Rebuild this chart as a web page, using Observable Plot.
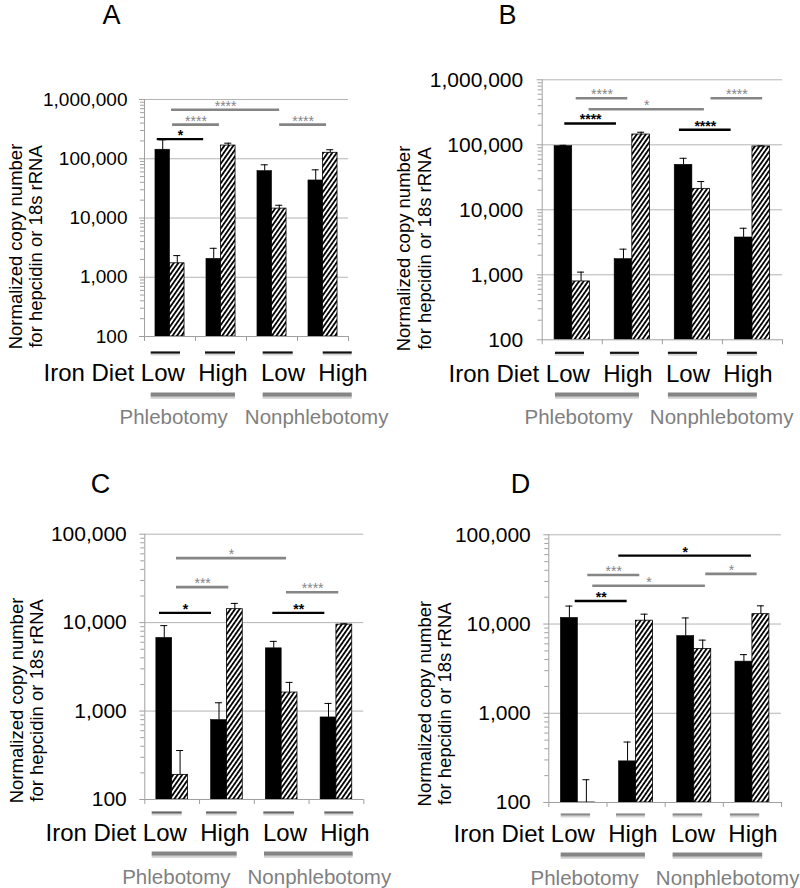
<!DOCTYPE html>
<html>
<head>
<meta charset="utf-8">
<script src="https://cdn.jsdelivr.net/npm/d3@7"></script>
<script src="https://cdn.jsdelivr.net/npm/@observablehq/plot@0.6"></script>
<style>
  body { margin: 0; background: #fff; }
  #wrap { position: relative; width: 800px; height: 888px; overflow: hidden; background: #fff;
          font-family: "Liberation Sans", Arial, Helvetica, sans-serif; }
  .panel { position: absolute; }
</style>
</head>
<body>
<svg width="0" height="0" style="position:absolute">
  <defs>
    <pattern id="hatch" patternUnits="userSpaceOnUse" width="3.7" height="3.7" patternTransform="rotate(35)">
      <rect width="3.7" height="3.7" fill="white"></rect>
      <rect width="1.8" height="3.7" fill="black"></rect>
    </pattern>
  </defs>
</svg>
<div id="wrap"></div>
<script>
// ---------- categories ----------
const ironDiet = ["Low", "High", "Low", "High"];
const treatment = ["Phlebotomy", "Phlebotomy", "Nonphlebotomy", "Nonphlebotomy"];
const yTitle = ["Normalized copy number", "for hepcidin or 18s rRNA"];
const yTicksAB = [100, 1000, 10000, 100000, 1000000];
const yTicksCD = [100, 1000, 10000, 100000];

// ---------- panel A ----------
const solidA = [142000, 2040, 61800, 43000];
const solidErrA = [67000, 1040, 17200, 22000];
const hatchedA = [1720, 167000, 14400, 126000];
const hatchedErrA = [600, 16000, 2000, 16000];
const sigA = [
  {from: 0.53, to: 2.65, y: 673000, label: "****", kind: "gray"},
  {from: 0.55, to: 1.47, y: 376000, label: "****", kind: "gray"},
  {from: 2.65, to: 3.57, y: 376000, label: "****", kind: "gray"},
  {from: 0.25, to: 1.16, y: 214000, label: "*", kind: "black"}
];

// ---------- panel B ----------
const solidB = [95200, 1740, 49200, 3750];
const solidErrB = [3000, 740, 12800, 1450];
const hatchedB = [790, 144000, 21000, 94200];
const hatchedErrB = [310, 12000, 6200, 2000];
const sigB = [
  {from: 0.566, to: 1.424, y: 521000, label: "****", kind: "gray"},
  {from: 2.81, to: 3.67, y: 521000, label: "****", kind: "gray"},
  {from: 0.78, to: 2.70, y: 353000, label: "*", kind: "gray"},
  {from: 0.376, to: 1.236, y: 213000, label: "****", kind: "black"},
  {from: 2.285, to: 3.145, y: 170000, label: "****", kind: "black"}
];

// ---------- panel C ----------
const solidC = [6710, 791, 5120, 847];
const solidErrC = [2540, 450, 1020, 373];
const hatchedC = [190, 14200, 1620, 9500];
const hatchedErrC = [168, 2300, 490, 200];
const sigC = [
  {from: 0.579, to: 2.588, y: 53700, label: "*", kind: "gray"},
  {from: 0.579, to: 1.534, y: 25200, label: "***", kind: "gray"},
  {from: 2.588, to: 3.543, y: 22100, label: "****", kind: "gray"},
  {from: 0.268, to: 1.218, y: 12900, label: "*", kind: "black"},
  {from: 2.338, to: 3.288, y: 12900, label: "**", kind: "black"}
];

// ---------- panel D ----------
const solidD = [11700, 289, 7330, 3790];
const solidErrD = [4200, 187, 4370, 750];
const hatchedD = [50, 10900, 5240, 12900];
const hatchedErrD = [130, 2000, 1360, 3100];
const sigD = [
  {from: 1.203, to: 3.483, y: 58500, label: "*", kind: "black"},
  {from: 0.67, to: 1.564, y: 35500, label: "***", kind: "gray"},
  {from: 2.698, to: 3.581, y: 36500, label: "*", kind: "gray"},
  {from: 0.756, to: 2.692, y: 26900, label: "*", kind: "gray"},
  {from: 0.454, to: 1.347, y: 18100, label: "**", kind: "black"}
];

// ---------- layout (positions / styles) ----------
const panels = [
  {letter: "A", solid: solidA, solidErr: solidErrA, hatched: hatchedA, hatchedErr: hatchedErrA, sig: sigA, ticks: yTicksAB,
   left: 0, top: 0, width: 400, height: 440, mL: 144, mR: 52, mT: 99, mB: 104, bw: 0.285,
   tickFont: 19, tickPad: 12, titleDx: -119, titleDy: 28.5, letterDx: -33, letterDy: -76,
   labelDx: -101, labelDy: 44, treatDx: -25, treatDy: 87, shortDy: 16, longDy: 58, shortColor: "#111",
   short: [[0.131, 0.706], [1.196, 1.784], [2.327, 2.916], [3.504, 4.073]],
   long: [[0.131, 1.784], [2.327, 4.073]]},
  {letter: "B", solid: solidB, solidErr: solidErrB, hatched: hatchedB, hatchedErr: hatchedErrB, sig: sigB, ticks: yTicksAB,
   left: 400, top: 0, width: 400, height: 440, mL: 141.7, mR: 18, mT: 79.3, mB: 100.7, bw: 0.294,
   tickFont: 21, tickPad: 14, titleDx: -128.2, titleDy: 38.7, letterDx: -34.7, letterDy: -56.3,
   labelDx: -93.7, labelDy: 42.4, treatDx: -17.7, treatDy: 83.7, shortDy: 13, longDy: 54.7, shortColor: "#111",
   short: [[0.221, 0.704], [1.136, 1.619], [2.101, 2.584], [3.083, 3.582]],
   long: [[0.221, 1.619], [2.101, 3.582]]},
  {letter: "C", solid: solidC, solidErr: solidErrC, hatched: hatchedC, hatchedErr: hatchedErrC, sig: sigC, ticks: yTicksCD,
   left: 0, top: 440, width: 400, height: 448, mL: 144.3, mR: 36.7, mT: 93.7, mB: 89, bw: 0.289,
   tickFont: 21, tickPad: 13, titleDx: -118.3, titleDy: 33.6, letterDx: -44.3, letterDy: -41.7,
   labelDx: -99.3, labelDy: 41, treatDx: -22.6, treatDy: 84, shortDy: 13, longDy: 54, shortColor: "#666",
   short: [[0.135, 0.683], [1.127, 1.687], [2.174, 2.734], [3.288, 3.817]],
   long: [[0.135, 1.687], [2.186, 3.806]]},
  {letter: "D", solid: solidD, solidErr: solidErrD, hatched: hatchedD, hatchedErr: hatchedErrD, sig: sigD, ticks: yTicksCD,
   left: 400, top: 440, width: 400, height: 448, mL: 148.3, mR: 19, mT: 94.3, mB: 86, bw: 0.292,
   tickFont: 21, tickPad: 13, titleDx: -114.3, titleDy: 35, letterDx: -28.3, letterDy: -42.3,
   labelDx: -95.3, labelDy: 39.7, treatDx: -18.3, treatDy: 82.7, shortDy: 12, longDy: 52, shortColor: "#8a8a8a",
   short: [[0.213, 0.718], [1.163, 1.661], [2.137, 2.646], [3.122, 3.625]],
   long: [[0.213, 1.661], [2.137, 3.677]]}
];

const FONT = "'Liberation Sans', Arial, Helvetica, sans-serif";
const GRAY = "#858585";
const AXIS = "#a0a0a0";
const NB = "\u00a0";

function makePanel(p) {
  const frameW = p.width - p.mL - p.mR;
  const unitPx = frameW / ironDiet.length;
  const cap = 3.5 / unitPx;
  const base = p.ticks[0];
  const top = p.ticks[p.ticks.length - 1];
  const rows = [];
  ironDiet.forEach((g, i) => {
    rows.push({series: "solid", x1: i + 0.5 - p.bw, x2: i + 0.5, v: p.solid[i], e: p.solidErr[i]});
    rows.push({series: "hatched", x1: i + 0.5, x2: i + 0.5 + p.bw, v: p.hatched[i], e: p.hatchedErr[i]});
  });
  const xc = d => (d.x1 + d.x2) / 2;
  const minor = [];
  p.ticks.slice(0, -1).forEach(d => { for (let k = 2; k <= 9; k++) minor.push(d * k); });
  const shortL = p.short.map(([a, b]) => ({a, b}));
  const longL = p.long.map(([a, b]) => ({a, b}));
  const labelText = "Iron Diet " + ironDiet.join(NB + NB);
  const treatText = Array.from(new Set(treatment)).join(NB + NB + NB);

  const plot = Plot.plot({
    width: p.width, height: p.height,
    marginLeft: p.mL, marginRight: p.mR, marginTop: p.mT, marginBottom: p.mB,
    x: {domain: [0, ironDiet.length]},
    y: {type: "log", domain: [base, top]},
    style: {fontFamily: FONT, background: "transparent", color: "black", overflow: "visible"},
    marks: [
      // gridlines & axes
      Plot.ruleY(p.ticks.slice(1), {stroke: "#b4b4b4", strokeWidth: 1}),
      Plot.axisY({ticks: minor, tickSize: 4, tickFormat: () => "", stroke: AXIS, label: null}),
      Plot.axisY({ticks: p.ticks, tickSize: 5, tickPadding: p.tickPad, tickFormat: d3.format(","),
                  fontSize: p.tickFont, stroke: AXIS, fill: "black", label: null}),
      Plot.axisX({ticks: d3.range(ironDiet.length + 1), tickSize: 5, tickFormat: () => "", stroke: AXIS, label: null}),
      Plot.ruleX([0], {stroke: AXIS}),
      Plot.ruleY([base], {stroke: AXIS}),
      // bars
      Plot.rectY(rows.filter(d => d.series === "solid"), {x1: "x1", x2: "x2", y1: () => base, y2: "v",
        fill: "black", stroke: "black", strokeWidth: 0.6, clip: true}),
      Plot.rectY(rows.filter(d => d.series === "hatched"), {x1: "x1", x2: "x2", y1: () => base, y2: "v",
        fill: "url(#hatch)", stroke: "black", strokeWidth: 0.8, clip: true}),
      // error bars
      Plot.ruleX(rows, {x: xc, y1: "v", y2: d => d.v + d.e, stroke: "black", strokeWidth: 1, clip: true}),
      Plot.ruleY(rows, {y: d => d.v + d.e, x1: d => xc(d) - cap, x2: d => xc(d) + cap, stroke: "black", strokeWidth: 1}),
      // significance brackets
      Plot.ruleY(p.sig.filter(d => d.kind === "gray"), {y: "y", x1: "from", x2: "to", stroke: GRAY, strokeWidth: 2.6}),
      Plot.ruleY(p.sig.filter(d => d.kind === "black"), {y: "y", x1: "from", x2: "to", stroke: "black", strokeWidth: 2.4}),
      Plot.text(p.sig.filter(d => d.kind === "gray"), {x: d => (d.from + d.to) / 2, y: "y", text: "label",
        lineAnchor: "bottom", dy: 1, fontSize: 14, fill: GRAY}),
      Plot.text(p.sig.filter(d => d.kind === "black"), {x: d => (d.from + d.to) / 2, y: "y", text: "label",
        lineAnchor: "bottom", dy: 1, fontSize: 14, fill: "black", fontWeight: "bold"}),
      // decorations under the axis
      Plot.ruleY(shortL, {y: () => base, x1: "a", x2: "b", dy: p.shortDy + 2, stroke: "#d6d6d6", strokeWidth: 2}),
      Plot.ruleY(shortL, {y: () => base, x1: "a", x2: "b", dy: p.shortDy, stroke: p.shortColor, strokeWidth: 2.2}),
      Plot.text([0], {frameAnchor: "bottom-left", dx: p.labelDx, dy: p.labelDy, text: () => labelText,
        textAnchor: "start", lineAnchor: "bottom", fontSize: 24, fill: "black"}),
      Plot.ruleY(longL, {y: () => base, x1: "a", x2: "b", dy: p.longDy + 2.5, stroke: "#cfcfcf", strokeWidth: 3.5}),
      Plot.ruleY(longL, {y: () => base, x1: "a", x2: "b", dy: p.longDy, stroke: GRAY, strokeWidth: 3.8}),
      Plot.text([0], {frameAnchor: "bottom-left", dx: p.treatDx, dy: p.treatDy, text: () => treatText,
        textAnchor: "start", lineAnchor: "bottom", fontSize: 20.5, fill: "#7f7f7f"}),
      // y title and panel letter
      Plot.text([0], {frameAnchor: "left", dx: p.titleDx, dy: p.titleDy, rotate: -90, text: () => yTitle.join("\n"),
        textAnchor: "middle", lineAnchor: "middle", lineHeight: 1.1, fontSize: 18.5, fill: "black"}),
      Plot.text([0], {frameAnchor: "top-left", dx: p.letterDx, dy: p.letterDy, text: () => p.letter,
        textAnchor: "middle", lineAnchor: "bottom", fontSize: 27, fill: "black"})
    ]
  });
  const holder = document.createElement("div");
  holder.className = "panel";
  holder.style.left = p.left + "px";
  holder.style.top = p.top + "px";
  holder.appendChild(plot);
  document.getElementById("wrap").appendChild(holder);
}

panels.forEach(makePanel);
</script>
</body>
</html>
